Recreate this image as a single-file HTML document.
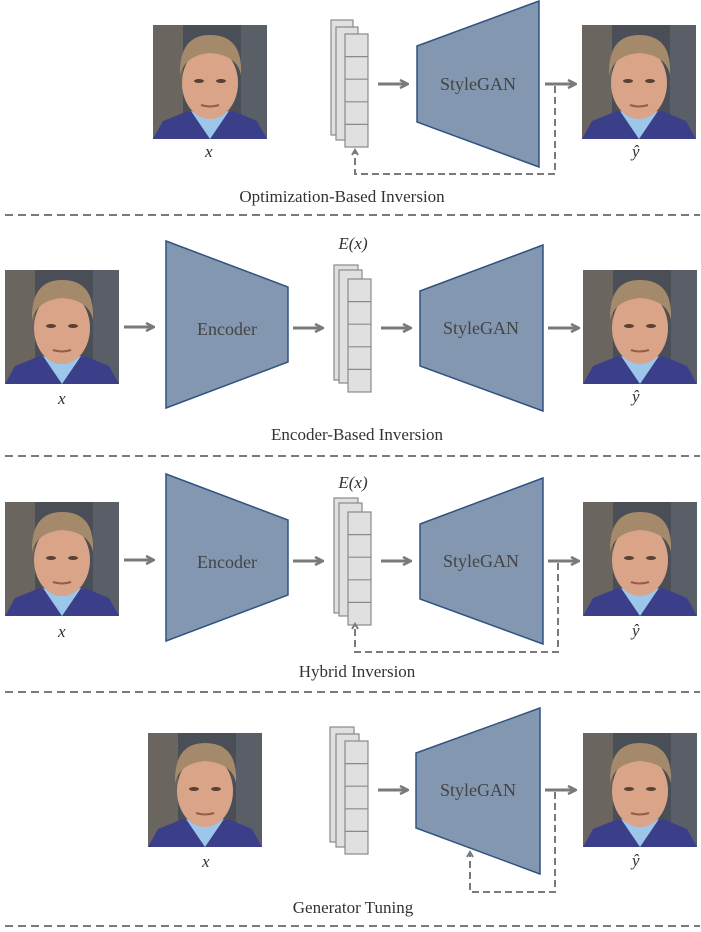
<!DOCTYPE html>
<html><head><meta charset="utf-8"><style>
html,body{margin:0;padding:0;background:#fff}
svg{display:block}
text{font-family:"Liberation Serif",serif;fill:#444}
.lbl{font-size:17px;fill:#333}
.cap{font-size:17px;fill:#333}
.mx{font-family:"Liberation Serif",serif;font-style:italic;font-size:17px;fill:#333}
</style></head><body>
<svg width="701" height="932" viewBox="0 0 701 932" xmlns="http://www.w3.org/2000/svg">
<defs>
<marker id="ah" markerWidth="10" markerHeight="10" refX="8" refY="5" orient="auto" markerUnits="userSpaceOnUse">
<path d="M1,1 L9,5 L1,9" fill="none" stroke="#7a7a7a" stroke-width="2.5"/>
</marker>
<marker id="ahs" markerWidth="10" markerHeight="10" refX="7" refY="5" orient="auto" markerUnits="userSpaceOnUse">
<path d="M2,2 L7,5 L2,8" fill="none" stroke="#7a7a7a" stroke-width="2"/>
</marker>
<symbol id="face" viewBox="0 0 114 114">
<rect width="114" height="114" fill="#4a4f57"/>
<rect x="0" y="0" width="30" height="114" fill="#6b6560"/>
<rect x="88" y="0" width="26" height="114" fill="#5a5e66"/>
<path d="M0,114 L10,96 L35,86 L57,92 L80,86 L104,96 L114,114Z" fill="#3b3f8a"/>
<path d="M38,86 L57,114 L76,86 L57,92Z" fill="#9cc6ea"/>
<ellipse cx="57" cy="58" rx="28" ry="36" fill="#d9a488"/>
<path d="M27,50 Q26,10 57,10 Q90,10 88,50 Q84,30 57,28 Q32,30 27,50Z" fill="#a4896a"/>
<ellipse cx="46" cy="56" rx="5" ry="2" fill="#5a4034"/>
<ellipse cx="68" cy="56" rx="5" ry="2" fill="#5a4034"/>
<path d="M48,80 Q57,83 66,80" stroke="#9a5a4a" stroke-width="2" fill="none"/>
</symbol>
</defs>

<g stroke="#7a7a7a" stroke-width="2" stroke-dasharray="8,5" fill="none">
<line x1="5" y1="215" x2="700" y2="215"/>
<line x1="5" y1="456" x2="700" y2="456"/>
<line x1="5" y1="692" x2="700" y2="692"/>
<line x1="5" y1="926" x2="700" y2="926"/>
</g>

<!-- Section 1 -->
<use href="#face" x="153" y="25" width="114" height="114"/>
<text class="mx" x="205" y="157">x</text>
<g stroke="#8a8a8a" stroke-width="1.2" fill="#e0e0e0">
<rect x="331" y="20" width="22" height="115"/><rect x="336" y="27" width="22" height="113"/><rect x="345" y="34" width="23" height="113"/>
<path d="M345,56.6H368M345,79.2H368M345,101.8H368M345,124.4H368" fill="none"/>
</g>
<line x1="378" y1="84" x2="407" y2="84" stroke="#7a7a7a" stroke-width="3" marker-end="url(#ah)"/>
<polygon points="417,46 539,1 539,167 417,122" fill="#8497b0" stroke="#2f5382" stroke-width="1.5"/>
<text x="478" y="90" text-anchor="middle" font-size="18">StyleGAN</text>
<line x1="545" y1="84" x2="575" y2="84" stroke="#7a7a7a" stroke-width="3" marker-end="url(#ah)"/>
<path d="M555,86 V174 H355 V150" fill="none" stroke="#7a7a7a" stroke-width="2" stroke-dasharray="7,4" marker-end="url(#ahs)"/>
<use href="#face" x="582" y="25" width="114" height="114"/>
<text class="mx" x="632" y="157">ŷ</text>
<text class="cap" x="342" y="202" text-anchor="middle">Optimization-Based Inversion</text>

<!-- Section 2 -->
<use href="#face" x="5" y="270" width="114" height="114"/>
<text class="mx" x="58" y="404">x</text>
<line x1="124" y1="327" x2="153" y2="327" stroke="#7a7a7a" stroke-width="3" marker-end="url(#ah)"/>
<polygon points="166,241 288,287 288,362 166,408" fill="#8497b0" stroke="#2f5382" stroke-width="1.5"/>
<text x="227" y="335" text-anchor="middle" font-size="18">Encoder</text>
<line x1="293" y1="328" x2="322" y2="328" stroke="#7a7a7a" stroke-width="3" marker-end="url(#ah)"/>
<text class="mx" x="353" y="249" text-anchor="middle">E(x)</text>
<g stroke="#8a8a8a" stroke-width="1.2" fill="#e0e0e0">
<rect x="334" y="265" width="24" height="115"/><rect x="339" y="270" width="23" height="113"/><rect x="348" y="279" width="23" height="113"/>
<path d="M348,301.6H371M348,324.2H371M348,346.8H371M348,369.4H371" fill="none"/>
</g>
<line x1="381" y1="328" x2="410" y2="328" stroke="#7a7a7a" stroke-width="3" marker-end="url(#ah)"/>
<polygon points="420,291 543,245 543,411 420,366" fill="#8497b0" stroke="#2f5382" stroke-width="1.5"/>
<text x="481" y="334" text-anchor="middle" font-size="18">StyleGAN</text>
<line x1="548" y1="328" x2="578" y2="328" stroke="#7a7a7a" stroke-width="3" marker-end="url(#ah)"/>
<use href="#face" x="583" y="270" width="114" height="114"/>
<text class="mx" x="632" y="402">ŷ</text>
<text class="cap" x="357" y="440" text-anchor="middle">Encoder-Based Inversion</text>

<!-- Section 3 -->
<use href="#face" x="5" y="502" width="114" height="114"/>
<text class="mx" x="58" y="637">x</text>
<line x1="124" y1="560" x2="153" y2="560" stroke="#7a7a7a" stroke-width="3" marker-end="url(#ah)"/>
<polygon points="166,474 288,520 288,595 166,641" fill="#8497b0" stroke="#2f5382" stroke-width="1.5"/>
<text x="227" y="568" text-anchor="middle" font-size="18">Encoder</text>
<line x1="293" y1="561" x2="322" y2="561" stroke="#7a7a7a" stroke-width="3" marker-end="url(#ah)"/>
<text class="mx" x="353" y="488" text-anchor="middle">E(x)</text>
<g stroke="#8a8a8a" stroke-width="1.2" fill="#e0e0e0">
<rect x="334" y="498" width="24" height="115"/><rect x="339" y="503" width="23" height="113"/><rect x="348" y="512" width="23" height="113"/>
<path d="M348,534.6H371M348,557.2H371M348,579.8H371M348,602.4H371" fill="none"/>
</g>
<line x1="381" y1="561" x2="410" y2="561" stroke="#7a7a7a" stroke-width="3" marker-end="url(#ah)"/>
<polygon points="420,524 543,478 543,644 420,599" fill="#8497b0" stroke="#2f5382" stroke-width="1.5"/>
<text x="481" y="567" text-anchor="middle" font-size="18">StyleGAN</text>
<line x1="548" y1="561" x2="578" y2="561" stroke="#7a7a7a" stroke-width="3" marker-end="url(#ah)"/>
<path d="M558,563 V652 H355 V624" fill="none" stroke="#7a7a7a" stroke-width="2" stroke-dasharray="7,4" marker-end="url(#ahs)"/>
<use href="#face" x="583" y="502" width="114" height="114"/>
<text class="mx" x="632" y="636">ŷ</text>
<text class="cap" x="357" y="677" text-anchor="middle">Hybrid Inversion</text>

<!-- Section 4 -->
<use href="#face" x="148" y="733" width="114" height="114"/>
<text class="mx" x="202" y="867">x</text>
<g stroke="#8a8a8a" stroke-width="1.2" fill="#e0e0e0">
<rect x="330" y="727" width="24" height="115"/><rect x="336" y="734" width="23" height="113"/><rect x="345" y="741" width="23" height="113"/>
<path d="M345,763.6H368M345,786.2H368M345,808.8H368M345,831.4H368" fill="none"/>
</g>
<line x1="378" y1="790" x2="407" y2="790" stroke="#7a7a7a" stroke-width="3" marker-end="url(#ah)"/>
<polygon points="416,753 540,708 540,874 416,828" fill="#8497b0" stroke="#2f5382" stroke-width="1.5"/>
<text x="478" y="796" text-anchor="middle" font-size="18">StyleGAN</text>
<line x1="545" y1="790" x2="575" y2="790" stroke="#7a7a7a" stroke-width="3" marker-end="url(#ah)"/>
<path d="M555,792 V892 H470 V852" fill="none" stroke="#7a7a7a" stroke-width="2" stroke-dasharray="7,4" marker-end="url(#ahs)"/>
<use href="#face" x="583" y="733" width="114" height="114"/>
<text class="mx" x="632" y="866">ŷ</text>
<text class="cap" x="353" y="913" text-anchor="middle">Generator Tuning</text>
</svg>
</body></html>
